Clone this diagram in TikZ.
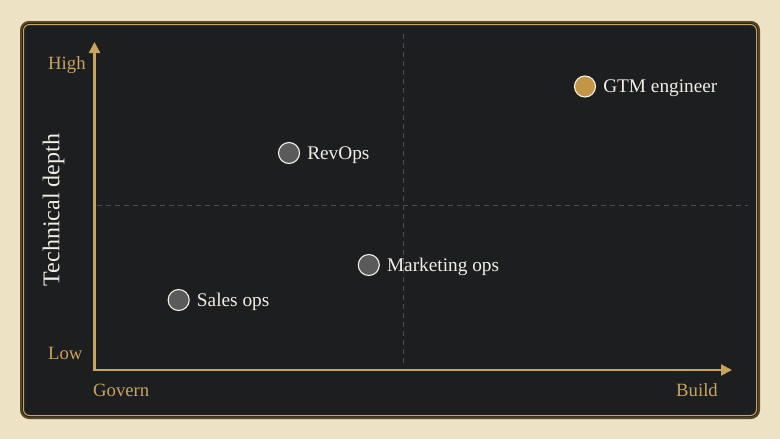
\documentclass[tikz,border=0pt]{standalone}
\usepackage{fontspec}
\setmainfont{Liberation Serif}
\usetikzlibrary{arrows.meta}
\definecolor{parch}{HTML}{EEE2C5}
\definecolor{panel}{HTML}{1C1E1F}
\definecolor{gold}{HTML}{C9A45E}
\definecolor{golddot}{HTML}{C39544}
\definecolor{graydot}{HTML}{5A5A5A}
\definecolor{ink}{HTML}{F2EEE6}
\definecolor{dashgray}{HTML}{505050}
\definecolor{rim}{HTML}{5A4424}
\begin{document}
\begin{tikzpicture}[x=1pt,y=-1pt,
  dot/.style={circle,minimum size=21pt,inner sep=0pt,draw=ink!85,line width=1.1pt,fill=graydot},
  keydot/.style={dot,fill=golddot},
  lbl/.style={anchor=base west,inner sep=0pt,text=ink,font=\fontsize{19.3}{22}\selectfont},
  axlbl/.style={inner sep=0pt,text=gold,font=\fontsize{18.7}{22}\selectfont},
  axisline/.style={draw=gold,line width=2.2pt,line join=miter,{Triangle[length=11pt,width=11pt]}-{Triangle[length=11pt,width=11pt]}},
  quadline/.style={draw=dashgray,line width=0.9pt,dash pattern=on 5pt off 4pt}]
\useasboundingbox (0,0) rectangle (780,439);
\fill[parch] (0,0) rectangle (780,439);
% panel
\draw[rim,line width=2pt,fill=panel,rounded corners=8pt] (21,22) rectangle (759,418);
\draw[gold,line width=1pt,rounded corners=6pt] (23.5,24.5) rectangle (756.5,415.5);
% quadrant lines
\coordinate (vt) at (403.5,34);
\coordinate (vb) at (403.5,366);
\coordinate (hl) at (97,205);
\coordinate (hr) at (748,205);
\draw[quadline] (vt) -- (vb);
\draw[quadline] (hl) -- (hr);
% axes
\coordinate (o) at (94.5,370);
\coordinate (yt) at (94.5,42);
\coordinate (xe) at (732,370);
\draw[axisline] (yt) -- (o) -- (xe);
% axis labels
\node[axlbl,anchor=base west] (high) at (48,69) {High};
\node[axlbl,anchor=base west] (low) at (48,359) {Low};
\node[axlbl,anchor=base west] (govern) at (93,396.7) {Govern};
\node[axlbl,anchor=base east] (build) at (718,396.7) {Build};
\node[inner sep=0pt,text=ink,font=\fontsize{24}{28}\selectfont,rotate=90,anchor=base] (ylab) at (59.5,210) {Technical depth};
% points
\node[keydot] (gtm) at (585,86.5) {};
\node[lbl] (gtml) at ([xshift=7pt,yshift=-6.3pt]gtm.east) {GTM engineer};
\node[dot] (rev) at (289,153) {};
\node[lbl] (revl) at ([xshift=7pt,yshift=-6.3pt]rev.east) {RevOps};
\node[dot] (mkt) at (368.8,265) {};
\node[lbl] (mktl) at ([xshift=7pt,yshift=-6.3pt]mkt.east) {Marketing ops};
\node[dot] (sales) at (178.7,300) {};
\node[lbl] (salesl) at ([xshift=7pt,yshift=-6.3pt]sales.east) {Sales ops};
\end{tikzpicture}
\end{document}
